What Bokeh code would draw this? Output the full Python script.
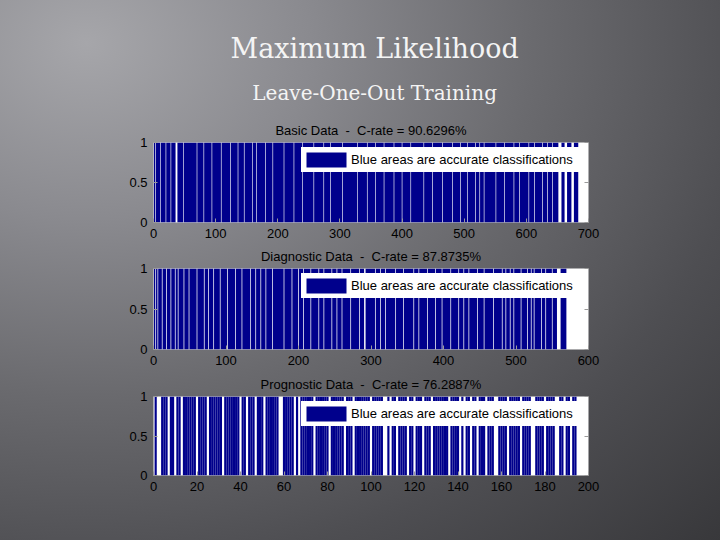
import numpy as np
from bokeh.plotting import figure
from bokeh.models import Range1d, Label, FixedTicker, LinearAxis
from bokeh.layouts import column
from bokeh.embed import file_html
from bokeh.resources import INLINE

# ---- data (sample counts and positions of misclassified samples, 1-based) ----
basic_n = 683
basic_errors = [3, 11, 20, 28, 36, 37, 38, 48, 70, 81, 94, 109, 124, 136, 146, 159, 166, 180,
                192, 210, 226, 240, 258, 274, 285, 304, 328, 344, 357, 371, 387, 400, 414, 435,
                449, 465, 481, 494, 505, 518, 525, 532, 551, 565, 580, 589, 604, 613, 626, 634,
                642, 652, 653, 654, 655, 656, 662, 663, 664, 665, 673, 674, 675, 676]
diag_n = 569
diag_errors = [3, 6, 12, 18, 24, 30, 34, 42, 49, 60, 70, 76, 83, 92, 102, 113, 122, 134, 141,
               148, 155, 164, 180, 191, 200, 207, 217, 228, 235, 246, 253, 260, 272, 284, 291,
               292, 306, 313, 320, 334, 345, 359, 366, 378, 389, 398, 410, 421, 428, 435, 447,
               456, 469, 481, 486, 492, 497, 507, 516, 521, 525, 535, 541, 550, 557, 558, 559,
               560, 561]
prog_n = 194
prog_errors = [2, 3, 7, 10, 13, 20, 25, 32, 40, 43, 47, 51, 58, 59, 65, 67, 74, 81, 88, 92,
               100, 106, 107, 109, 112, 117, 120, 124, 128, 136, 141, 143, 146, 149, 153, 157,
               158, 163, 169, 174, 175, 180, 185, 186, 189, 192]

basic_title = "Basic Data \u00a0-\u00a0 C-rate = 90.6296%"
diag_title = "Diagnostic Data \u00a0-\u00a0 C-rate = 87.8735%"
prog_title = "Prognostic Data \u00a0-\u00a0 C-rate = 76.2887%"
basic_xticks = [0, 100, 200, 300, 400, 500, 600, 700]
diag_xticks = [0, 100, 200, 300, 400, 500, 600]
prog_xticks = [0, 20, 40, 60, 80, 100, 120, 140, 160, 180, 200]
yticks = [0, 0.5, 1]
ytick_labels = {0: "0", 0.5: "0.5", 1: "1"}
legend_text = "Blue areas are accurate classifications"
main_title = "Maximum Likelihood"
sub_title = "Leave-One-Out Training"

NAVY = "#00008C"
W = 720
SANS = "Liberation Sans"


def runs(n, errors):
    ok = np.ones(n + 2, dtype=bool)
    ok[0] = ok[-1] = False
    ok[np.array(errors)] = False
    d = np.diff(ok.astype(int))
    starts = np.where(d == 1)[0] + 1
    ends = np.where(d == -1)[0]
    return starts, ends


def panel(title, n, errors, xticks, height, top, bottom, merge):
    p = figure(width=W, height=height, x_range=Range1d(xticks[0], xticks[-1]),
               y_range=Range1d(0, 1), output_backend="svg", toolbar_location=None,
               min_border_left=153, min_border_right=132, min_border_top=top,
               min_border_bottom=bottom, background_fill_color="white",
               border_fill_color=None, outline_line_color=None)
    if merge:
        s, e = runs(n, errors)
        p.quad(left=s - 0.5, right=e + 0.5, top=1, bottom=0, fill_color=NAVY,
               line_color=None, legend_label=legend_text)
    else:
        idx = np.arange(1, n + 1)
        ok = np.ones(n, dtype=bool)
        ok[np.array(errors) - 1] = False
        p.vbar(x=idx[ok], top=1, bottom=0, width=1.0, fill_color=NAVY, line_color=None,
               legend_label=legend_text)
    p.grid.visible = False
    p.title.text = title
    p.title.align = "center"
    p.title.text_font = SANS
    p.title.text_font_style = "normal"
    p.title.text_font_size = "13px"
    p.title.text_color = "black"
    p.title.standoff = 9
    p.xaxis.ticker = FixedTicker(ticks=xticks)
    p.yaxis.ticker = FixedTicker(ticks=yticks)
    p.yaxis.major_label_overrides = ytick_labels
    p.add_layout(LinearAxis(ticker=FixedTicker(ticks=yticks), major_label_text_font_size="0px",
                            major_label_text_alpha=0), "right")
    for ax in p.axis:
        ax.axis_line_color = None
        ax.major_tick_in = 4
        ax.major_tick_out = 0
        ax.major_tick_line_color = "#999999"
        ax.minor_tick_line_color = None
        ax.major_label_text_font = SANS
        ax.major_label_text_font_size = "13px"
        ax.major_label_text_color = "black"
        ax.major_label_standoff = 6
    lg = p.legend[0]
    lg.location = "top_right"
    lg.margin = 5
    lg.padding = 0
    lg.spacing = 0
    lg.glyph_width = 50
    lg.glyph_height = 19
    lg.label_height = 25
    lg.label_width = 232
    lg.label_standoff = 0
    lg.label_text_font = SANS
    lg.label_text_font_size = "13px"
    lg.label_text_color = "black"
    lg.border_line_color = None
    lg.background_fill_color = "white"
    lg.background_fill_alpha = 1.0
    return p


header = figure(width=W, height=112, x_range=Range1d(0, W), y_range=Range1d(0, 112),
                output_backend="svg", toolbar_location=None, min_border=0,
                x_axis_location=None, y_axis_location=None, background_fill_color=None,
                border_fill_color=None, outline_line_color=None)
header.grid.visible = False
header.add_layout(Label(x=366, y=64, text=main_title, text_align="center",
                        text_baseline="middle", text_font="DejaVu Serif",
                        text_font_size="27px", text_color="#f4f4f4"))
header.add_layout(Label(x=366, y=20, text=sub_title, text_align="center",
                        text_baseline="middle", text_font="DejaVu Serif",
                        text_font_size="20px", text_color="#f4f4f4"))

f1 = panel(basic_title, basic_n, basic_errors, basic_xticks, 130, 30, 20, True)
f2 = panel(diag_title, diag_n, diag_errors, diag_xticks, 128, 26, 21, True)
f3 = panel(prog_title, prog_n, prog_errors, prog_xticks, 170, 25, 65, False)

layout = column(header, f1, f2, f3, spacing=0,
                styles={"background": "radial-gradient(ellipse farthest-corner at 12% 8%, "
                                      "#a6a6aa 0%, #8a8a8f 25%, #6a6a6e 50%, "
                                      "#4e4e52 75%, #38383b 100%)"})

open("out.html", "w").write(file_html(layout, INLINE))
